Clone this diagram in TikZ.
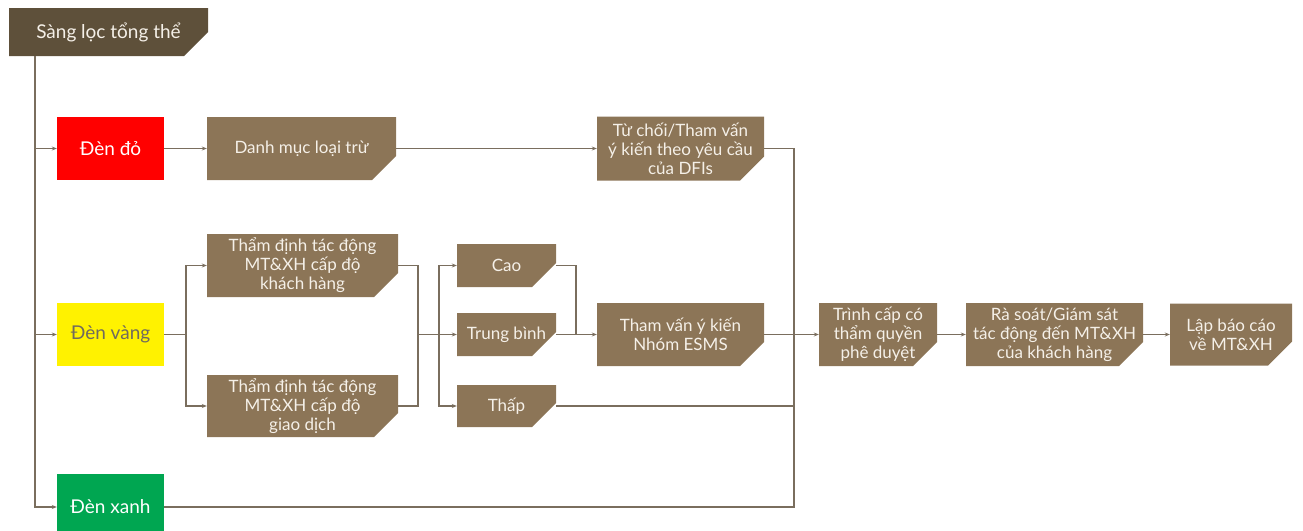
\documentclass[tikz,border=0pt]{standalone}
\usepackage{fontspec}
\setmainfont{Lato}
\usetikzlibrary{arrows.meta, positioning}
\definecolor{linec}{RGB}{122,110,94}
\definecolor{boxc}{RGB}{140,117,87}
\definecolor{topc}{RGB}{94,80,58}
\definecolor{txtc}{RGB}{245,240,232}
\definecolor{redc}{RGB}{255,0,0}
\definecolor{yellowc}{RGB}{255,242,0}
\definecolor{greenc}{RGB}{0,166,81}
\definecolor{ytxt}{RGB}{112,106,94}
\tikzset{
  >={Stealth[length=5pt,width=4pt]},
  every node/.style={font=\fontsize{17}{19}\selectfont, align=center, inner sep=0pt},
  flow/.style={draw=linec, line width=1.3pt},
  cutcol/.initial=boxc,
  cutbox/.style={text=txtc, minimum width=#1,
    path picture={\fill[\pgfkeysvalueof{/tikz/cutcol}]
      (path picture bounding box.south west) -- ([xshift=-24pt]path picture bounding box.south east)
      -- ([yshift=24pt]path picture bounding box.south east) -- (path picture bounding box.north east)
      -- (path picture bounding box.north west) -- cycle;}},
  lamp/.style={fill=#1, minimum width=107pt, minimum height=63pt, font=\fontsize{19}{21}\selectfont},
}
\begin{document}
\begin{tikzpicture}[x=1pt, y=-1pt]
    \useasboundingbox (0,0) rectangle (1303,530);
    % tong the
    \node[cutbox=199pt, cutcol=topc, minimum height=48pt, font=\fontsize{19}{21}\selectfont] (tong) at (108.5,32) {Sàng lọc tổng thể};

    % ba den
    \node[lamp=redc, text=white] (red) at (110.5,148.5) {Đèn đỏ};
    \node[lamp=yellowc, text=ytxt] (yellow) at (110.5,334.5) {Đèn vàng};
    \node[lamp=greenc, text=white, minimum height=66pt] (green) at (110.5,507) {Đèn xanh};

    % nhanh do
    \node[cutbox=189pt, minimum height=63pt] (loaitru) at (301.5,148.5) {Danh mục loại trừ};
    \node[cutbox=167pt, minimum height=64pt] (tuchoi) at (680.5,148.5) {Từ chối/Tham vấn\\ý kiến theo yêu cầu\\của DFIs};

    % nhanh vang
    \node[cutbox=191pt, minimum height=63pt] (kh) at (302.5,265.5) {Thẩm định tác động\\MT\&XH cấp độ\\khách hàng};
    \node[cutbox=191pt, minimum height=62pt] (gd) at (302.5,406) {Thẩm định tác động\\MT\&XH cấp độ\\giao dịch};
    \node[cutbox=99pt, minimum height=43pt] (cao) at (506.5,265.5) {Cao};
    \node[cutbox=99pt, minimum height=43pt] (tb) at (506.5,334.5) {Trung bình};
    \node[cutbox=99pt, minimum height=42pt] (thap) at (506.5,406) {Thấp};
    \node[cutbox=167pt, minimum height=63pt] (esms) at (680.5,334.5) {Tham vấn ý kiến\\Nhóm ESMS};

    % phe duyet
    \node[cutbox=118pt, minimum height=63pt] (trinh) at (878,334.5) {Trình cấp có\\thẩm quyền\\phê duyệt};
    \node[cutbox=177pt, minimum height=63pt] (rasoat) at (1054.5,334.5) {Rà soát/Giám sát\\tác động đến MT\&XH\\của khách hàng};
    \node[cutbox=122pt, minimum height=62pt] (lap) at (1231,334.5) {Lập báo cáo\\về MT\&XH};

    \coordinate (spine) at (35,0);
    \coordinate (s1) at (186,0);
    \coordinate (s2) at (418,0);
    \coordinate (s3) at (439,0);
    \coordinate (s4) at (576,0);
    \coordinate (join) at (794,0);

    \begin{scope}[flow]
    \draw[->] (spine |- tong.south) |- (green.west);
    \draw[->] (spine |- red.west) -- (red.west);
    \draw[->] (spine |- yellow.west) -- (yellow.west);

    \draw[->] (red.east) -- (loaitru.west);
    \draw[->] (loaitru.east) -- (tuchoi.west);
    \draw (green.east) -| (join |- tuchoi.east) -- (tuchoi.east);

    \draw (yellow.east) -- (s1 |- yellow.east);
    \foreach \n in {kh, gd}
        \draw[->] (s1 |- yellow.east) |- (\n.west);
    \draw (kh.east) -| (s2 |- gd.east) -- (gd.east);
    \draw (s2 |- yellow.east) -- (s3 |- yellow.east);
    \foreach \n in {cao, tb, thap}
        \draw[->] (s3 |- tb.west) |- (\n.west);

    \draw (cao.east) -| (s4 |- tb.east);
    \draw[->] (tb.east) -- (esms.west);
    \draw (esms.east) -- (join |- esms.east);
    \draw (thap.east) -- (join |- thap.east);
    \draw[->] (join |- trinh.west) -- (trinh.west);
    \draw[->] (trinh.east) -- (rasoat.west);
    \draw[->] (rasoat.east) -- (lap.west);
    \end{scope}
\end{tikzpicture}
\end{document}
